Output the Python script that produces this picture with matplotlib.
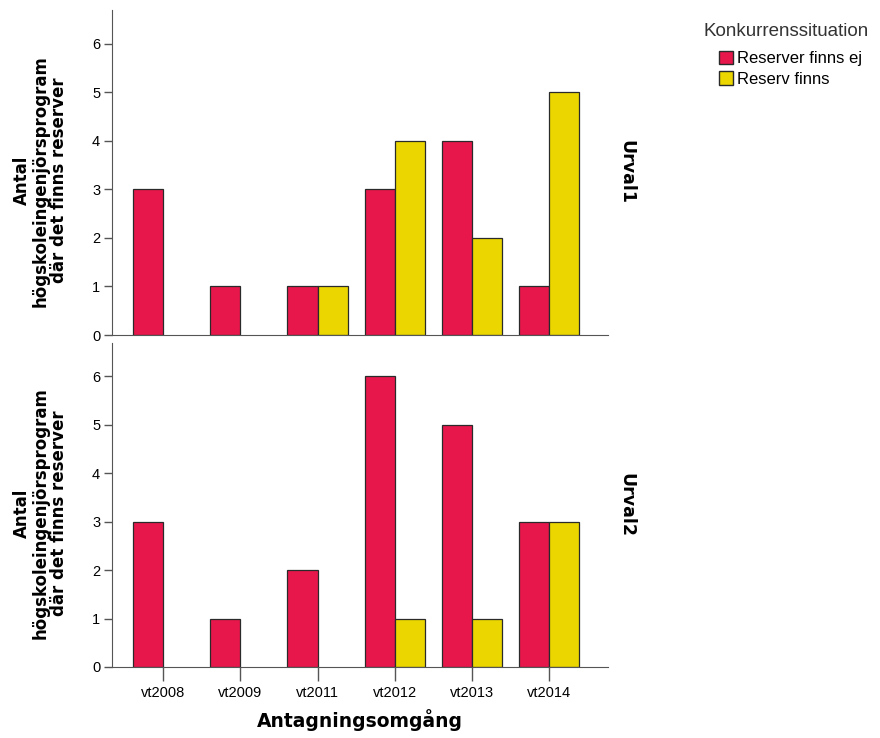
import matplotlib
matplotlib.use("Agg")
import matplotlib.pyplot as plt
from matplotlib.patches import Patch
import numpy as np

categories = ["vt2008", "vt2009", "vt2011", "vt2012", "vt2013", "vt2014"]
series_names = ["Reserver finns ej", "Reserv finns"]
urval1_ej = [3, 1, 1, 3, 4, 1]
urval1_finns = [0, 0, 1, 4, 2, 5]
urval2_ej = [3, 1, 2, 6, 5, 3]
urval2_finns = [0, 0, 0, 1, 1, 3]
panel_labels = ["Urval1", "Urval2"]
yticks = [0, 1, 2, 3, 4, 5, 6]

red = "#e8174b"
yellow = "#ebd600"
edge = "#2a2a2a"
axc = "#555555"

fig = plt.figure(figsize=(8.8, 7.38), dpi=100)
ax1 = fig.add_axes([112/880, 1-335/738, 496/880, 325/738])
ax2 = fig.add_axes([112/880, 1-667/738, 496/880, 324/738])

x = np.arange(len(categories))
w = 0.39
ylab = "Antal\nhögskoleingenjörsprogram\ndär det finns reserver"

for ax, ej, fi, pl in [(ax1, urval1_ej, urval1_finns, panel_labels[0]),
                       (ax2, urval2_ej, urval2_finns, panel_labels[1])]:
    for i in range(len(categories)):
        if ej[i] > 0:
            ax.bar(x[i] - w/2, ej[i], w, color=red, edgecolor=edge, linewidth=0.9)
        if fi[i] > 0:
            ax.bar(x[i] + w/2, fi[i], w, color=yellow, edgecolor=edge, linewidth=0.9)
    ax.set_xlim(-0.66, 5.76)
    ax.set_ylim(0, 6.69)
    ax.set_yticks(yticks)
    ax.set_yticklabels([str(t) for t in yticks], fontsize=10.5, family="Liberation Sans")
    for s in ["top", "right"]:
        ax.spines[s].set_visible(False)
    ax.spines["left"].set_color(axc)
    ax.spines["bottom"].set_color(axc)
    ax.tick_params(axis="y", length=6, width=1, color=axc, pad=2.5)
    ax.set_ylabel(ylab, fontsize=12, fontweight="bold", family="DejaVu Sans",
                  linespacing=1.05)
    ax.yaxis.set_label_coords(-0.089, 0.475)
    ax.text(1.037, 0.5, pl, transform=ax.transAxes, rotation=-90, ha="center",
            va="center", fontsize=12.5, fontweight="bold", family="DejaVu Sans")

ax1.set_xticks([])
ax2.set_xticks(x)
ax2.set_xticklabels(categories, fontsize=10.5, family="Liberation Sans")
ax2.tick_params(axis="x", length=10, width=1, color=axc, pad=4)
ax2.set_xlabel("Antagningsomgång", fontsize=13.5, fontweight="bold",
               family="DejaVu Sans")
ax2.xaxis.set_label_coords(0.5, -0.13)

fig.text(703/880, 1-31/738, "Konkurrenssituation", ha="left", va="center",
         fontsize=13.5, family="Liberation Sans", color="#333333")
handles = [Patch(facecolor=red, edgecolor=edge, label=series_names[0]),
           Patch(facecolor=yellow, edgecolor=edge, label=series_names[1])]
leg = fig.legend(handles=handles, loc="upper left",
                 bbox_to_anchor=(719/880, 1-51/738),
                 frameon=False, prop={"family": "Liberation Sans", "size": 12},
                 handlelength=0.85, handleheight=0.85, handletextpad=0.25,
                 labelspacing=0.3, borderpad=0, borderaxespad=0)

fig.savefig("out.png", dpi=100)
